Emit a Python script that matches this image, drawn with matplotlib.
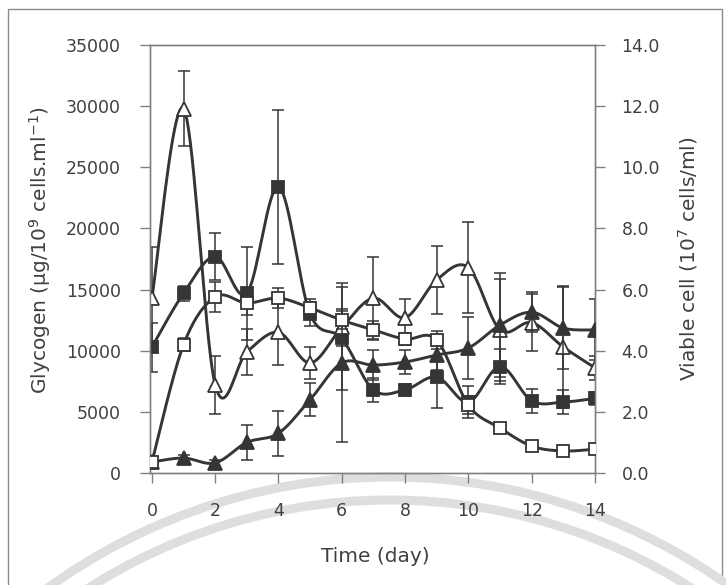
import numpy as np
import matplotlib
matplotlib.use('Agg')
from matplotlib import pyplot as plt
from matplotlib.patches import Rectangle, Arc
from matplotlib.ticker import FormatStrFormatter

# time in days
days = [0, 1, 2, 3, 4, 5, 6, 7, 8, 9, 10, 11, 12, 13, 14]

# glycogen (left axis, ug/10^9 cells.ml-1)
gly_filled = [10300, 14700, 17700, 14700, 23400, 13000, 11000, 6800, 6800, 7850, 5800, 8700, 5900, 5800, 6100]
gly_filled_err = [2000, 600, 1900, 3800, 6300, 1000, 4200, 1000, 500, 2500, 1300, 1400, 1000, 1000, 500]
gly_open = [14300, 29800, 7200, 9900, 11500, 9000, 11900, 14300, 12700, 15800, 16800, 11700, 12300, 10300, 8600]
gly_open_err = [4200, 3100, 2400, 1900, 2700, 1300, 1500, 3400, 1500, 2800, 3700, 4200, 2300, 5000, 1000]

# viable cell (right axis, 10^7 cells/ml)
cell_filled = [0.36, 0.49, 0.33, 1.0, 1.3, 2.4, 3.6, 3.53, 3.63, 3.86, 4.09, 4.84, 5.26, 4.74, 4.68]
cell_filled_err = [0.1, 0.1, 0.1, 0.58, 0.73, 0.54, 2.6, 0.5, 0.4, 0.5, 1.0, 1.7, 0.65, 1.35, 1.0]
cell_open = [0.36, 4.2, 5.76, 5.56, 5.72, 5.4, 5.0, 4.68, 4.38, 4.35, 2.22, 1.47, 0.88, 0.72, 0.78]
cell_open_err = [0.1, 0.2, 0.48, 0.4, 0.32, 0.3, 0.3, 0.3, 0.2, 0.3, 0.3, 0.15, 0.15, 0.15, 0.15]

line_col = '#353535'
text_col = '#404040'
spine_col = '#808080'


def smooth(xs, ys, n=20):
    # excel-like smoothed line (catmull-rom bezier)
    xs = np.asarray(xs, float)
    ys = np.asarray(ys, float)
    pts = np.column_stack([xs, ys])
    out = []
    t = np.linspace(0, 1, n)
    for i in range(len(pts) - 1):
        p0 = pts[max(i - 1, 0)]
        p1 = pts[i]
        p2 = pts[i + 1]
        p3 = pts[min(i + 2, len(pts) - 1)]
        c1 = p1 + (p2 - p0) / 6
        c2 = p2 - (p3 - p1) / 6
        seg = ((1 - t) ** 3)[:, None] * p1 + (3 * (1 - t) ** 2 * t)[:, None] * c1 \
            + (3 * (1 - t) * t ** 2)[:, None] * c2 + (t ** 3)[:, None] * p2
        out.append(seg if i == 0 else seg[1:])
    out = np.vstack(out)
    return out[:, 0], out[:, 1]


def draw_series(ax, y, err, marker, filled, ms):
    ax.errorbar(days, y, yerr=err, fmt='none', ecolor=line_col, elinewidth=1.1,
                capsize=4.5, capthick=1.1, zorder=2)
    sx, sy = smooth(days, y)
    ax.plot(sx, sy, color=line_col, lw=2.1, zorder=3, solid_capstyle='round')
    ax.plot(days, y, linestyle='none', marker=marker, markersize=ms,
            markerfacecolor=line_col if filled else 'white',
            markeredgecolor=line_col, markeredgewidth=1.3, zorder=4)


fig = plt.figure(figsize=(7.26, 5.85), dpi=100)
fig.patch.set_facecolor('white')

# scanned page decorations: border and faint watermark arcs
fig.patches.append(Rectangle((8 / 726, -0.05), 714 / 726, 1.05 - 9 / 585, transform=fig.transFigure,
                             fill=False, edgecolor='#8a8a8a', lw=1.0, zorder=-2))
for r in [583, 560]:
    fig.patches.append(Arc((390 / 726, 1 - 1060 / 585), 2 * r / 726, 2 * r / 585,
                           theta1=15, theta2=165, transform=fig.transFigure,
                           color='#dedede', lw=6.5, zorder=-1))

ax = fig.add_axes([150 / 726, 1 - 473 / 585, 445 / 726, 428 / 585])
ax.set_facecolor('none')
ax2 = ax.twinx()

draw_series(ax, gly_filled, gly_filled_err, 's', True, 8.5)
draw_series(ax, gly_open, gly_open_err, '^', False, 10)
draw_series(ax2, cell_filled, cell_filled_err, '^', True, 10)
draw_series(ax2, cell_open, cell_open_err, 's', False, 8.5)

ax.set_xlim(-0.06, 14)
ax.set_ylim(0, 35000)
ax2.set_ylim(0, 14)
ax.set_xticks(range(0, 15, 2))
ax.set_yticks(range(0, 35001, 5000))
ax2.set_yticks(np.arange(0, 14.1, 2))
ax2.yaxis.set_major_formatter(FormatStrFormatter('%.1f'))

for a in [ax, ax2]:
    for s in a.spines.values():
        s.set_color(spine_col)
        s.set_linewidth(1.0)
    a.tick_params(colors=spine_col, labelcolor=text_col, labelsize=12.5,
                  direction='out', length=7, width=1.0, pad=14)
ax2.tick_params(pad=12)

ax.set_xlabel('Time (day)', fontsize=14.5, color=text_col)
ax.set_ylabel('Glycogen (µg/10$^{9}$ cells.ml$^{-1}$)', fontsize=14.5, color=text_col)
ax2.set_ylabel('Viable cell (10$^{7}$ cells/ml)', fontsize=14.5, color=text_col)
ax.xaxis.set_label_coords(0.506, -0.172)
ax.yaxis.set_label_coords(-0.218, 0.52)
ax2.yaxis.set_label_coords(1.183, 0.5)

plt.savefig('out.png', dpi=100, format='png')
